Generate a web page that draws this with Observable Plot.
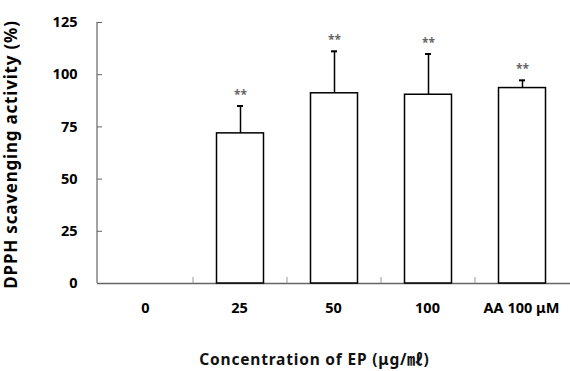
<!DOCTYPE html>
<html>
<head>
<meta charset="utf-8">
<script src="https://cdn.jsdelivr.net/npm/d3@7"></script>
<script src="https://cdn.jsdelivr.net/npm/@observablehq/plot@0.6"></script>
<style>
  html, body { margin: 0; padding: 0; background: #fff; }
  #chart svg { display: block; }
</style>
</head>
<body>
<div id="chart"></div>
<script>
const categories = ["0", "25", "50", "100", "AA 100 μM"];
const means = [0, 71.9, 91.1, 90.4, 93.6];
const sds = [0, 13.1, 20.1, 19.5, 3.7];
const marks = ["", "**", "**", "**", "**"];
const yTicks = [0, 25, 50, 75, 100, 125];
const yLabel = "DPPH scavenging activity (%)";
const xLabel = "Concentration of EP (μg/㎖)";

const data = categories.map((c, i) => ({cat: c, mean: means[i], sd: sds[i], top: means[i] + sds[i], sig: marks[i]}));
const shown = data.filter(d => d.mean > 0);

const font = "'Noto Sans', 'Noto Sans CJK KR', sans-serif";

const decor = (index, scales, values, dimensions) => {
  const {width, height, marginLeft, marginRight} = dimensions;
  const g = d3.create("svg:g");
  const y0 = scales.y(0);
  // y axis line
  g.append("line").attr("x1", marginLeft).attr("x2", marginLeft)
    .attr("y1", scales.y(125)).attr("y2", y0)
    .attr("stroke", "#666").attr("stroke-width", 1.2);
  // category boundary ticks
  categories.slice(1).forEach(c => {
    const x = scales.x(c);
    g.append("line").attr("x1", x).attr("x2", x).attr("y1", y0).attr("y2", y0 - 6)
      .attr("stroke", "#999").attr("stroke-width", 1);
  });
  // titles
  g.append("text")
    .attr("transform", `translate(12,${(scales.y(125) + y0) / 2 + 2}) rotate(-90)`)
    .attr("text-anchor", "middle").attr("dominant-baseline", "middle")
    .attr("font-weight", "bold").attr("font-size", 17).attr("letter-spacing", 0.8).attr("fill", "#000")
    .attr("font-family", font)
    .text(yLabel);
  g.append("text")
    .attr("x", (marginLeft + width - marginRight) / 2 - 19)
    .attr("y", height - 10)
    .attr("text-anchor", "middle").attr("dominant-baseline", "middle")
    .attr("font-weight", "bold").attr("font-size", 15.5).attr("letter-spacing", 0.8).attr("fill", "#111")
    .attr("font-family", font)
    .text(xLabel);
  return g.node();
};

const chart = Plot.plot({
  width: 570,
  height: 371,
  marginLeft: 97,
  marginRight: 0,
  marginTop: 22,
  marginBottom: 88,
  style: {fontFamily: font, background: "#fff", color: "#000"},
  x: {domain: categories, padding: 0, label: null},
  y: {domain: [0, 125], label: null},
  marks: [
    Plot.axisY({ticks: yTicks, tickSize: -5, tickPadding: 25, fontSize: 14.5, fontWeight: "bold", label: null, stroke: "#666"}),
    Plot.axisX({tickSize: 0, tickPadding: 19, fontSize: 14.5, fontWeight: "bold", label: null, dx: -1}),
    Plot.ruleY([0], {stroke: "#666", strokeWidth: 1.5}),
    decor,
    Plot.ruleX(shown, {x: "cat", y1: "mean", y2: "top", stroke: "#000", strokeWidth: 1.5}),
    Plot.tickY(shown, {x: "cat", y: "top", stroke: "#000", strokeWidth: 2, insetLeft: 44, insetRight: 44}),
    Plot.barY(shown, {x: "cat", y: "mean", fill: "#fff", stroke: "#000", strokeWidth: 1.5, insetLeft: 23.5, insetRight: 23.5}),
    Plot.text(shown, {x: "cat", y: "top", text: "sig", dy: -11, fontSize: 12, fill: "#666", fontWeight: "bold"})
  ]
});
document.getElementById("chart").appendChild(chart);
</script>
</body>
</html>
